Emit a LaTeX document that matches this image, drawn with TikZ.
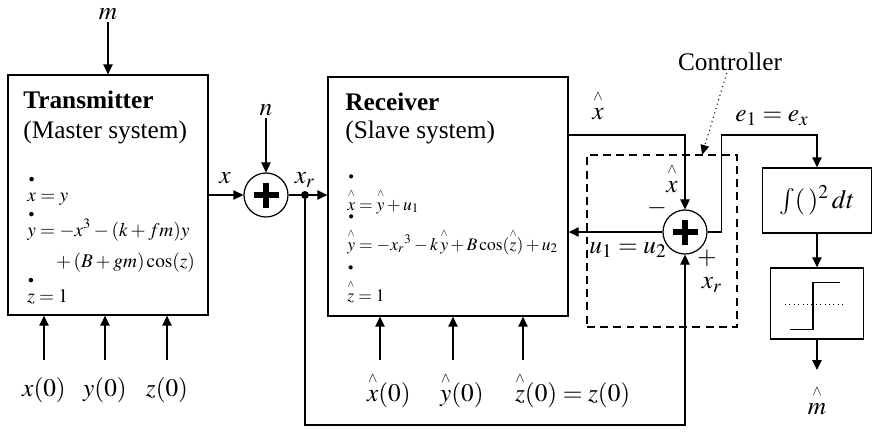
\documentclass[tikz,border=0pt]{standalone}
\usepackage{amsmath}
\usepackage{mathptmx}
\usepackage{fontspec}
\setmainfont{Liberation Serif}
\usetikzlibrary{positioning,arrows.meta}
\newcommand{\hatv}[1]{\overset{\raisebox{1.5pt}{$\scriptscriptstyle\wedge$}}{#1}}
\newcommand{\dotv}[1]{\overset{\raisebox{3.5pt}{$\scriptscriptstyle\bullet$}}{#1}}
\newcommand{\labfont}{\fontsize{14.4}{17}\selectfont}
\tikzset{
  blk/.style={draw,line width=0.8pt,inner sep=0pt},
  sumc/.style={draw,circle,line width=0.7pt,minimum size=0.88cm,inner sep=0pt},
  ctrlbox/.style={draw,dash pattern=on 4.5pt off 3pt,line width=0.7pt,inner sep=0pt},
  lbl/.style={font=\labfont,inner sep=1pt},
  eqn/.style={font=\fontsize{11}{13}\selectfont,inner sep=0pt,anchor=base west},
  reqn/.style={font=\fontsize{10}{12}\selectfont,inner sep=0pt,anchor=base west},
  ttl/.style={font=\labfont,inner sep=0pt,anchor=base west},
  arr/.style={-{Triangle[length=0.2cm,width=0.19cm]},line width=0.6pt},
  dotarr/.style={-{Triangle[length=0.2cm,width=0.17cm]},dotted,line width=0.6pt},
  plusbar/.style={line width=3.4pt},
}
\begin{document}
\begin{tikzpicture}[x=0.02cm,y=-0.02cm]
\useasboundingbox (0,0) rectangle (875,434);
% blocks
\node[blk,minimum width=4cm,minimum height=4.8cm] (tx) at (108,195) {};
\node[blk,minimum width=4.8cm,minimum height=4.78cm] (rx) at (448,196.5) {};
\node[ctrlbox,minimum width=3cm,minimum height=3.44cm] (ctrl) at (662,241) {};
\node[blk,minimum width=2.18cm,minimum height=1.3cm,font=\fontsize{15}{18}\selectfont] (intg) at (817,200.5) {$\int(\,)^2\,dt$};
\node[blk,minimum width=1.86cm,minimum height=1.42cm] (step) at (817,303.5) {};
\node[sumc] (s1) at (266,195) {};
\node[sumc] (s2) at (685,232) {};
\node[fill,circle,inner sep=0pt,minimum size=0.16cm] (jn) at (305,195) {};
\draw[plusbar] (s1.center) ++(-12.5,0) -- ++(25,0) (s1.center) ++(0,-12.5) -- ++(0,25);
\draw[plusbar] (s2.center) ++(-12.5,0) -- ++(25,0) (s2.center) ++(0,-12.5) -- ++(0,25);
% step function
\draw[line width=0.8pt] (step.center) ++(-27,26) -- ++(23,0) -- ++(0,-47) -- ++(27,0);
\draw[dotted,line width=0.5pt] (step.center) ++(-32,1) -- ++(60,0);
% texts in the blocks
\node[ttl,font=\labfont\bfseries] (txt) at (23,108) {Transmitter};
\node[ttl] (txs) at (23,138) {(Master system)};
\node[eqn] (te1) at (27,201) {$\dotv{x} = y$};
\node[eqn] (te2) at (27,236) {$\dotv{y} = -x^3 - (k + fm)y$};
\node[eqn] (te3) at (53,267) {${}+(B + gm)\cos(z)$};
\node[eqn] (te4) at (27,302) {$\dotv{z} = 1$};
\node[ttl,font=\labfont\bfseries] (rxt) at (345,110) {Receiver};
\node[ttl] (rxs) at (345,138) {(Slave system)};
\node[reqn] (re1) at (347,210) {$\dotv{\hatv{x}} = \hatv{y} + u_1$};
\node[reqn] (re2) at (347,250) {$\dotv{\hatv{y}} = -x_r{}^3 - k\,\hatv{y} + B\cos(\hatv{z}) + u_2$};
\node[reqn] (re3) at (347,301) {$\dotv{\hatv{z}} = 1$};
% labels
\node[lbl] (mlab) at (108,14) {$m$};
\node[lbl] (nlab) at (266,110) {$n$};
\node[lbl] (xlab) at (225,178) {$x$};
\node[lbl] (xrlab) at (305,180) {$x_r$};
\node[lbl] (xhlab) at (598,105) {$\hatv{x}$};
\node[lbl] (xhin) at (672,178) {$\hatv{x}$};
\node[lbl] (minus) at (657,208) {$-$};
\node[lbl] (plus) at (707,258) {$+$};
\node[lbl] (xrin) at (712,285) {$x_r$};
\node[lbl] (ulab) at (628,250) {$u_1 = u_2$};
\node[lbl] (elab) at (772,118) {$e_1 = e_x$};
\node[lbl] (clab) at (730,62) {Controller};
\node[lbl] (mhlab) at (817,400) {$\hatv{m}$};
\node[lbl] (x0) at (44,390) {$x(0)$};
\node[lbl] (y0) at (105,390) {$y(0)$};
\node[lbl] (z0) at (167,390) {$z(0)$};
\node[lbl,anchor=west] (xh0) at (365,390) {$\hatv{x}(0)$};
\node[lbl,anchor=west] (yh0) at (438,390) {$\hatv{y}(0)$};
\node[lbl,anchor=west] (zh0) at (513,390) {$\hatv{z}(0) = z(0)$};
% corner points
\coordinate (xh) at (685,135);
\coordinate (eh) at (817,135);
\coordinate (loop) at (0,425);
\coordinate (ctip) at (702,155);
\coordinate (mend) at (817,370);
% connectors
\draw[arr] (mlab) -- (tx);
\draw[arr] (nlab) -- (s1);
\draw[arr] (tx.east |- s1) -- (s1);
\draw[line width=0.6pt] (s1) -- (jn);
\draw[arr] (jn) -- (rx.west |- jn);
\draw[arr] (jn) -- (jn |- loop) -| (s2);
\draw[arr] (rx.east |- xh) -- (xh) -- (s2);
\draw[arr] (s2) -- (rx.east |- s2);
\draw[arr] (s2.east) -- ++(14,0) |- (eh) -- (intg);
\draw[arr] (intg) -- (step);
\draw[arr] (step) -- (mend);
\draw[dotarr] (clab) -- (ctip);
\foreach \v in {x0,y0,z0}
  \draw[arr] (\v.center) ++(0,-30) -- (\v |- tx.south);
\foreach \px in {380,453,523}
  \draw[arr] (\px,360) -- (rx.south -| \px,0);
\end{tikzpicture}
\end{document}
